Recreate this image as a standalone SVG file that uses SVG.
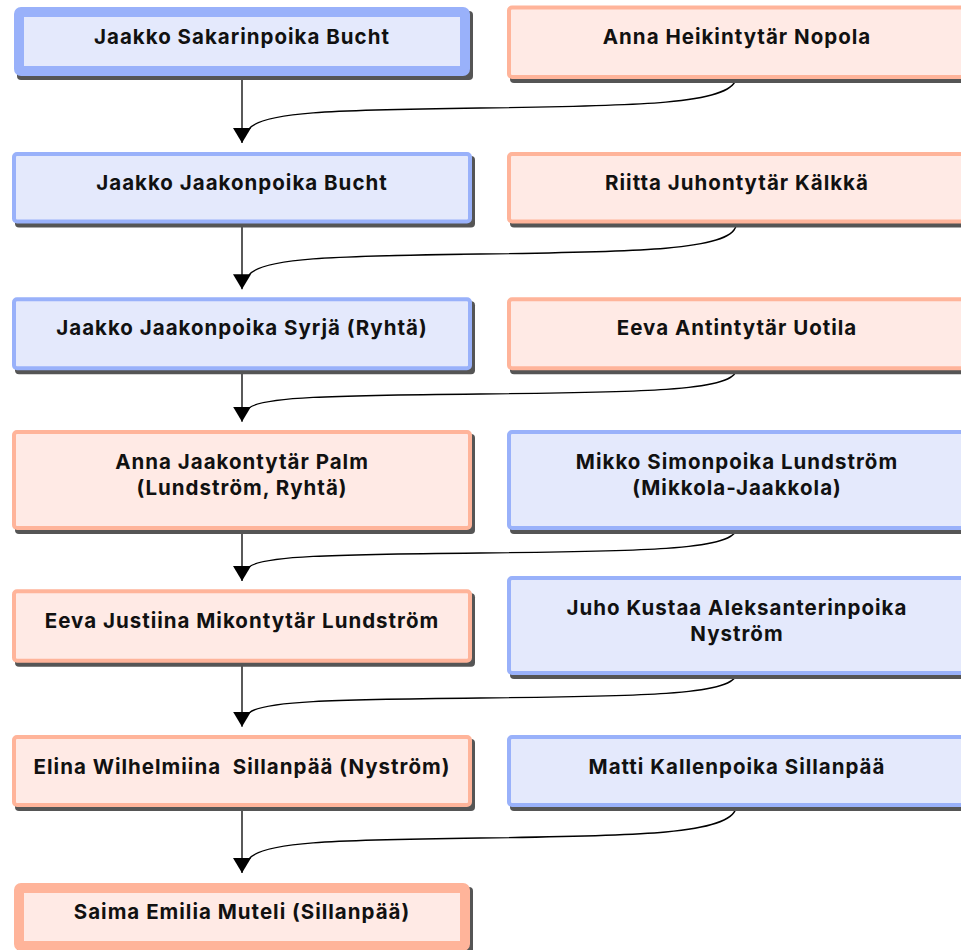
<svg xmlns="http://www.w3.org/2000/svg" width="961" height="950" viewBox="0 0 961 950">
<defs>
<style>
.sh{fill:#555555;}
.m{fill:#E4E9FC;stroke:#99B1FA;stroke-width:4;}
.f{fill:#FFEAE5;stroke:#FFB49A;stroke-width:4;}
.thick{stroke-width:10;}
.t{font-family:Inter,"Noto Sans","Liberation Sans",sans-serif;font-weight:700;font-size:20.5px;letter-spacing:1px;fill:#111111;text-anchor:middle;}
.e{fill:none;stroke:#000000;stroke-width:1.3;}
</style>
<marker id="arr" markerUnits="userSpaceOnUse" viewBox="0 0 15 18" refX="15" refY="9" markerWidth="15" markerHeight="18" orient="auto">
<path d="M0,0 L15,9 L0,18 z" fill="#000000"/>
</marker>
</defs>
<rect width="961" height="950" fill="#ffffff"/>

<g id="connectors">
<path class="e" d="M242,76 V143" marker-end="url(#arr)"/>
<path class="e" d="M736,79 C730,104 640,106 480,108 C330,110 262,112 249,129"/>
<path class="e" d="M242,223.5 V289.3" marker-end="url(#arr)"/>
<path class="e" d="M736,226 C730,250 640,252 480,254 C330,256 262,258 249,275"/>
<path class="e" d="M242,370.5 V421.7" marker-end="url(#arr)"/>
<path class="e" d="M736,371 C731,391 640,392.5 480,394 C330,395.5 262,397 249,408"/>
<path class="e" d="M242,530 V581" marker-end="url(#arr)"/>
<path class="e" d="M736,530 C731,550 640,551.5 480,553 C330,554.5 262,556 249,567"/>
<path class="e" d="M242,662.7 V726.7" marker-end="url(#arr)"/>
<path class="e" d="M736,675 C731,695 640,696.5 480,698 C330,699.5 262,701 249,713"/>
<path class="e" d="M242,807 V873" marker-end="url(#arr)"/>
<path class="e" d="M736,808 C730,834 640,836 480,838 C330,840 262,842 249,859"/>
</g>

<g id="n1">
<rect class="sh" x="17" y="11" width="456" height="69" rx="4"/>
<rect class="m thick" x="19" y="12" width="446" height="59" rx="2"/>
<text class="t" x="242" y="44">Jaakko Sakarinpoika Bucht</text>
</g>
<g id="n2">
<rect class="sh" x="510" y="9.5" width="460" height="73.5" rx="4"/>
<rect class="f" x="509" y="7.5" width="456" height="69.5" rx="3"/>
<text class="t" x="737" y="44">Anna Heikintytär Nopola</text>
</g>

<g id="n3">
<rect class="sh" x="15" y="156" width="460" height="71.5" rx="4"/>
<rect class="m" x="14" y="154" width="456" height="67.5" rx="3"/>
<text class="t" x="242" y="190">Jaakko Jaakonpoika Bucht</text>
</g>
<g id="n4">
<rect class="sh" x="510" y="156" width="460" height="71.5" rx="4"/>
<rect class="f" x="509" y="154" width="456" height="67.5" rx="3"/>
<text class="t" x="737" y="190">Riitta Juhontytär Kälkkä</text>
</g>

<g id="n5">
<rect class="sh" x="15" y="301.3" width="460" height="73" rx="4"/>
<rect class="m" x="14" y="299.3" width="456" height="69" rx="3"/>
<text class="t" x="242" y="335">Jaakko Jaakonpoika Syrjä (Ryhtä)</text>
</g>
<g id="n6">
<rect class="sh" x="510" y="301.3" width="460" height="73" rx="4"/>
<rect class="f" x="509" y="299.3" width="456" height="69" rx="3"/>
<text class="t" x="737" y="335">Eeva Antintytär Uotila</text>
</g>

<g id="n7">
<rect class="sh" x="15" y="434" width="460" height="100" rx="4"/>
<rect class="f" x="14" y="432" width="456" height="96" rx="3"/>
<text class="t" x="242" y="469.3">Anna Jaakontytär Palm</text>
<text class="t" x="242" y="495.3">(Lundström, Ryhtä)</text>
</g>
<g id="n8">
<rect class="sh" x="510" y="434" width="460" height="100" rx="4"/>
<rect class="m" x="509" y="432" width="456" height="96" rx="3"/>
<text class="t" x="737" y="469.3">Mikko Simonpoika Lundström</text>
<text class="t" x="737" y="495.3">(Mikkola-Jaakkola)</text>
</g>

<g id="n9">
<rect class="sh" x="15" y="593.3" width="460" height="73.4" rx="4"/>
<rect class="f" x="14" y="591.3" width="456" height="69.4" rx="3"/>
<text class="t" x="242" y="628.3">Eeva Justiina Mikontytär Lundström</text>
</g>
<g id="n10">
<rect class="sh" x="510" y="580" width="460" height="99" rx="4"/>
<rect class="m" x="509" y="578" width="456" height="95" rx="3"/>
<text class="t" x="737" y="615">Juho Kustaa Aleksanterinpoika</text>
<text class="t" x="737" y="641">Nyström</text>
</g>

<g id="n11">
<rect class="sh" x="15" y="739" width="460" height="72" rx="4"/>
<rect class="f" x="14" y="737" width="456" height="68" rx="3"/>
<text class="t" x="242" y="774" xml:space="preserve">Elina Wilhelmiina  Sillanpää (Nyström)</text>
</g>
<g id="n12">
<rect class="sh" x="510" y="739" width="460" height="72" rx="4"/>
<rect class="m" x="509" y="737" width="456" height="68" rx="3"/>
<text class="t" x="737" y="773.5">Matti Kallenpoika Sillanpää</text>
</g>

<g id="n13">
<rect class="sh" x="17" y="887" width="456" height="69" rx="4"/>
<rect class="f thick" x="19" y="888" width="446" height="58" rx="2"/>
<text class="t" x="242" y="919.3">Saima Emilia Muteli (Sillanpää)</text>
</g>
</svg>
